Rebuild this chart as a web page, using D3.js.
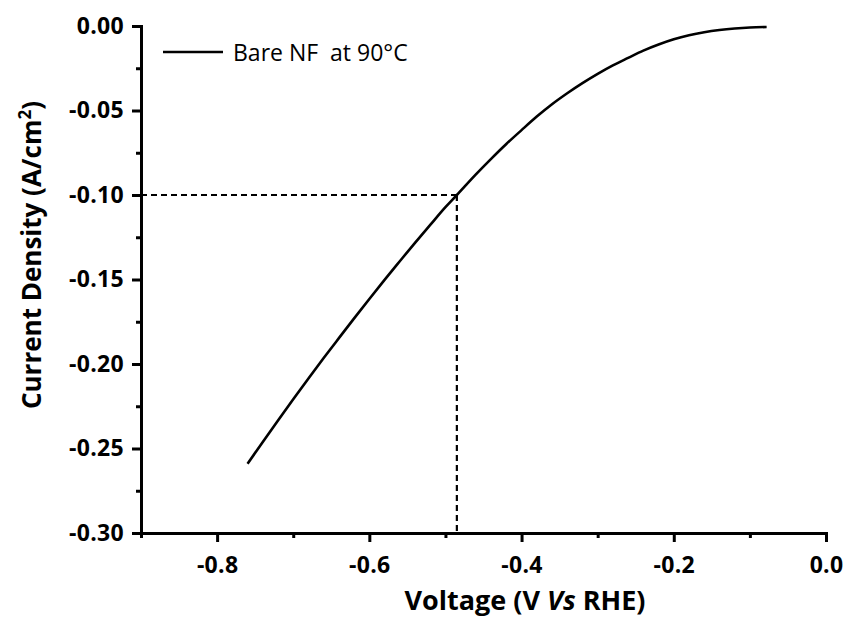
<!DOCTYPE html>
<html><head><meta charset="utf-8">
<script src="https://cdn.jsdelivr.net/npm/d3@7"></script>
<style>
body{margin:0;background:#fff}
svg{display:block}
text{font-family:"Open Sans",sans-serif;fill:#000}
</style>
</head><body>
<svg id="chart" width="848" height="619"></svg>
<script>
// ---- data ----
const voltage = [-0.760,-0.740,-0.720,-0.700,-0.680,-0.660,-0.640,-0.620,-0.600,-0.580,-0.560,-0.540,-0.520,-0.500,-0.485,-0.460,-0.440,-0.420,-0.400,-0.380,-0.360,-0.340,-0.320,-0.300,-0.280,-0.260,-0.240,-0.220,-0.200,-0.180,-0.160,-0.140,-0.120,-0.100,-0.078];
const current = [-0.2590,-0.2461,-0.2334,-0.2209,-0.2086,-0.1965,-0.1847,-0.1730,-0.1615,-0.1502,-0.1392,-0.1283,-0.1177,-0.1072,-0.1000,-0.0878,-0.0786,-0.0698,-0.0616,-0.0536,-0.0463,-0.0398,-0.0338,-0.0283,-0.0233,-0.0189,-0.0146,-0.0110,-0.0079,-0.0055,-0.0037,-0.0024,-0.0015,-0.0009,-0.0006];
const seriesName = "Bare NF\u00a0 at 90°C";

const xDomain = [-0.9, 0.0];
const yDomain = [-0.30, 0.0];
const xTickValues = [-0.8,-0.6,-0.4,-0.2,0.0];
const xTickLabels = ["-0.8","-0.6","-0.4","-0.2","0.0"];
const xMinorTicks = [-0.9,-0.7,-0.5,-0.3,-0.1];
const yTickValues = [0.00,-0.05,-0.10,-0.15,-0.20,-0.25,-0.30];
const yTickLabels = ["0.00","-0.05","-0.10","-0.15","-0.20","-0.25","-0.30"];
const yMinorTicks = [-0.025,-0.075,-0.125,-0.175,-0.225,-0.275];
const markerVoltage = [-0.485];
const markerCurrent = [-0.10];

// ---- layout ----
const svg = d3.select("#chart");
const L = 141, R = 826, T = 26, B = 533;
const x = d3.scaleLinear().domain(xDomain).range([L, R]);
const y = d3.scaleLinear().domain(yDomain).range([B, T]);

// dashed reference lines
svg.append("line")
  .attr("x1", x(xDomain[0])).attr("x2", x(markerVoltage[0]))
  .attr("y1", y(markerCurrent[0])).attr("y2", y(markerCurrent[0]))
  .attr("stroke","#000").attr("stroke-width",2.2).attr("stroke-dasharray","6,4");
svg.append("line")
  .attr("x1", x(markerVoltage[0])).attr("x2", x(markerVoltage[0]))
  .attr("y1", y(markerCurrent[0])).attr("y2", y(yDomain[0]))
  .attr("stroke","#000").attr("stroke-width",2.2).attr("stroke-dasharray","6,4");

// curve
const pts = voltage.map((v,i)=>[v,current[i]]);
svg.append("path")
  .datum(pts)
  .attr("fill","none").attr("stroke","#000").attr("stroke-width",2.6)
  .attr("stroke-linejoin","round")
  .attr("d", d3.line().x(d=>x(d[0])).y(d=>y(d[1])).curve(d3.curveMonotoneX));

// axes
svg.append("g").attr("transform",`translate(0,${B})`)
  .call(d3.axisBottom(x).tickValues(xTickValues).tickFormat((d,i)=>xTickLabels[i])
    .tickSize(9).tickSizeOuter(0).tickPadding(15));
svg.append("g").attr("transform",`translate(0,${B})`)
  .call(d3.axisBottom(x).tickValues(xMinorTicks).tickFormat("").tickSize(5).tickSizeOuter(0))
  .call(g=>g.select(".domain").remove());
svg.append("g").attr("transform",`translate(${L},0)`)
  .call(d3.axisLeft(y).tickValues(yTickValues).tickFormat((d,i)=>yTickLabels[i])
    .tickSize(9).tickSizeOuter(0).tickPadding(8));
svg.append("g").attr("transform",`translate(${L},0)`)
  .call(d3.axisLeft(y).tickValues(yMinorTicks).tickFormat("").tickSize(5).tickSizeOuter(0))
  .call(g=>g.select(".domain").remove());

svg.selectAll(".domain").attr("stroke","#000").attr("stroke-width",3).attr("stroke-linecap","square");
svg.selectAll(".tick line").attr("stroke","#000").attr("stroke-width",3);
svg.selectAll(".tick text")
  .attr("font-family","Open Sans, sans-serif").attr("font-weight","bold")
  .attr("font-size","23px").attr("letter-spacing","0.3px").attr("fill","#000");

// axis titles
const xt = svg.append("text").attr("x",525).attr("y",610).attr("text-anchor","middle")
  .attr("font-size","27px").attr("font-weight","bold");
xt.append("tspan").text("Voltage (V ");
xt.append("tspan").attr("font-style","italic").text("Vs");
xt.append("tspan").text(" RHE)");

const yt = svg.append("text").attr("transform","rotate(-90)").attr("x",-255).attr("y",41)
  .attr("text-anchor","middle").attr("font-size","26px").attr("font-weight","bold");
yt.append("tspan").text("Current Density (A/cm");
yt.append("tspan").attr("dy",-10).attr("font-size","17px").text("2");
yt.append("tspan").attr("dy",10).text(")");

// legend
svg.append("line").attr("x1",163).attr("x2",223).attr("y1",52).attr("y2",52)
  .attr("stroke","#000").attr("stroke-width",2.6);
svg.append("text").attr("x",233).attr("y",61).attr("font-size","23px").text(seriesName);
</script>
</body></html>
